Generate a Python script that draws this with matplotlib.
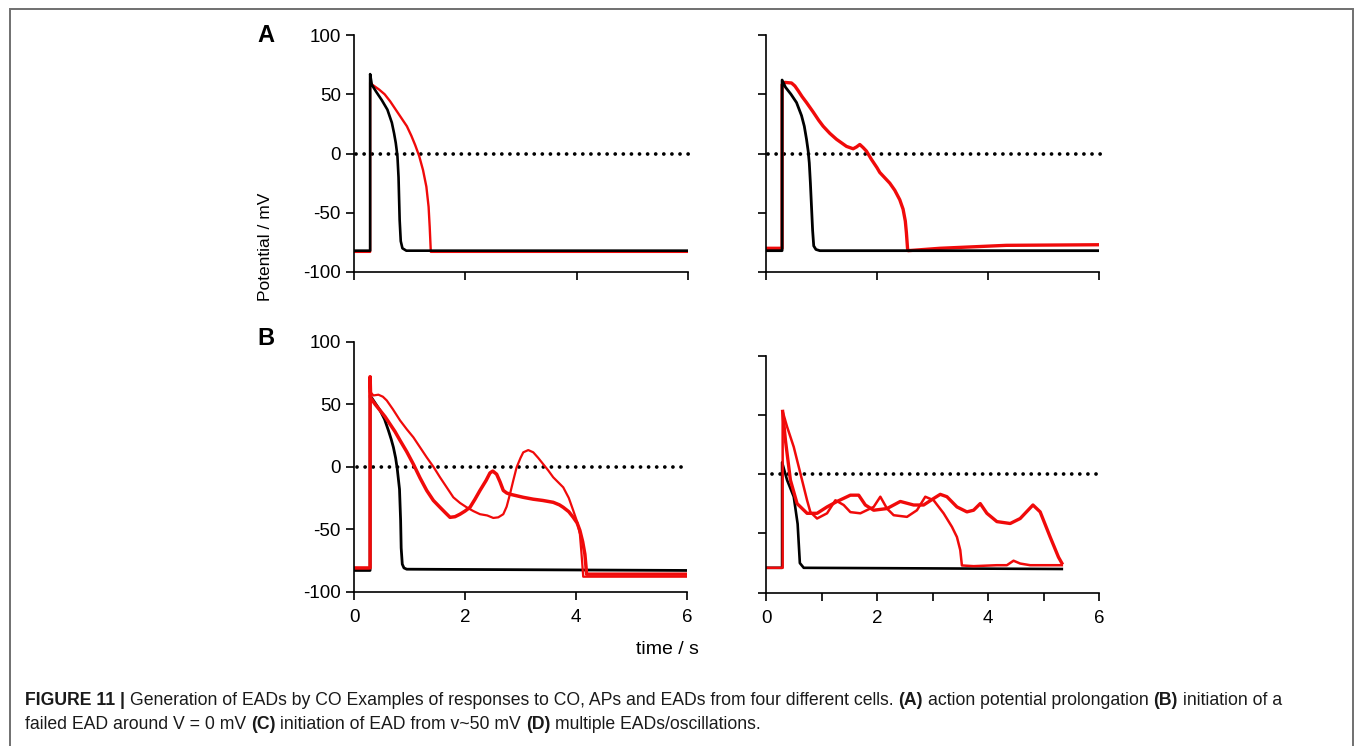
"""Figure 11: action potentials and EADs under CO, four cells."""

import matplotlib
matplotlib.use("Agg")
import matplotlib.pyplot as plt
from matplotlib.patches import Rectangle

plt.rcParams['font.family'] = ['Liberation Sans', 'DejaVu Sans']
plt.rcParams['axes.unicode_minus'] = False

W, H = 1355, 746

# ---- data (time in s, potential in mV) ----
# panel A, left cell
a1_black_t = [0, 0.29, 0.29, 0.32, 0.40, 0.50, 0.60, 0.68, 0.72, 0.75, 0.78,
              0.80, 0.82, 0.84, 0.87, 0.94, 6.0]
a1_black_v = [-82, -82, 67, 58, 52, 45, 37, 26, 17, 9, -2,
              -20, -56, -74, -80, -82, -82]
a1_red_t = [0, 0.29, 0.29, 0.33, 0.45, 0.55, 0.65, 0.75, 0.85, 0.95, 1.03, 1.10,
            1.17, 1.24, 1.30, 1.34, 1.36, 1.38, 6.0]
a1_red_v = [-83, -83, 60, 58, 54, 50, 44, 37, 30, 23, 15, 7,
            -2, -14, -28, -45, -62, -83, -83]

# panel A, right cell
a2_black_t = [0, 0.29, 0.29, 0.35, 0.45, 0.55, 0.64, 0.69, 0.73, 0.76, 0.78,
              0.80, 0.82, 0.84, 0.86, 0.90, 0.97, 6.0]
a2_black_v = [-82, -82, 62, 56, 50, 43, 32, 23, 12, 2, -8,
              -25, -45, -65, -78, -81, -82, -82]
a2_red_t = [0, 0.29, 0.29, 0.34, 0.46, 0.52, 0.58, 0.65, 0.73, 0.85, 0.95, 1.03,
            1.15, 1.27, 1.36, 1.45, 1.57, 1.63, 1.69, 1.75, 1.81, 1.90, 2.00,
            2.05, 2.15, 2.23, 2.32, 2.41, 2.47, 2.51, 2.53, 2.55, 2.56, 3.13,
            4.33, 6.0]
a2_red_v = [-80, -80, 58, 60, 59.5, 57, 53, 48, 43, 35, 28, 23,
            17, 12, 9, 6, 4, 5.5, 7.6, 5, 2, -5, -12,
            -16, -21, -25, -31, -39, -47, -57, -67, -80, -82, -80,
            -77.5, -77]

# panel B, left cell
b1_black_t = [0, 0.29, 0.29, 0.35, 0.47, 0.55, 0.62, 0.67, 0.71, 0.75, 0.78,
              0.80, 0.82, 0.84, 0.85, 0.87, 0.90, 0.95, 6.0]
b1_black_v = [-83, -83, 57, 53, 45, 38, 29, 22, 15.5, 7, -2,
              -10, -18, -43, -65, -78, -81, -82, -83]
b1_red1_t = [0, 0.29, 0.29, 0.30, 0.38, 0.47, 0.56, 0.65, 0.74, 0.83, 0.95, 1.07,
             1.19, 1.31, 1.43, 1.55, 1.65, 1.73, 1.82, 1.91, 2.00, 2.09, 2.18,
             2.27, 2.38, 2.45, 2.50, 2.57, 2.63, 2.69, 2.75, 2.81, 3.05, 3.23,
             3.40, 3.59, 3.70, 3.77, 3.87, 3.95, 4.02, 4.07, 4.12, 4.16, 4.18,
             4.19, 6.0]
b1_red1_v = [-81, -81, 72, 55, 50, 45, 40, 34, 28, 21, 12, 2,
             -9, -19, -27, -32.5, -37, -40.5, -40, -38, -35.5, -32.5, -26,
             -19, -11, -5, -3.5, -6, -12, -19, -21, -22, -24.5, -26,
             -27, -28.5, -30.5, -32.5, -36, -40.5, -45, -51, -60, -70, -80,
             -86, -86]
b1_red2_t = [0.29, 0.35, 0.44, 0.52, 0.59, 0.70, 0.83, 0.95, 1.07, 1.19, 1.31,
             1.43, 1.55, 1.67, 1.79, 1.91, 2.03, 2.15, 2.27, 2.40, 2.51, 2.60,
             2.69, 2.75, 2.81, 2.87, 2.93, 3.00, 3.05, 3.14, 3.23, 3.32, 3.41,
             3.50, 3.59, 3.68, 3.77, 3.87, 3.95, 4.02, 4.07, 4.10, 4.13, 6.0]
b1_red2_v = [60, 57, 57.6, 56, 53, 46, 37, 30, 23.5, 15.5, 7.5,
             0, -8.5, -16.5, -24.5, -29, -32.5, -35.5, -38, -39, -41, -40.5,
             -38, -32, -22, -11, -0.5, 7, 11.5, 13.3, 11.5, 7, 2,
             -3, -8.5, -12.5, -16.5, -25, -35, -44, -54, -70, -88, -88]

# panel B, right cell
b2_black_t = [0, 0.29, 0.29, 0.38, 0.50, 0.57, 0.61, 0.68, 5.33]
b2_black_v = [-79, -79, 10, -5, -19, -42, -75, -79, -80]
b2_red1_t = [0, 0.30, 0.30, 0.38, 0.50, 0.62, 0.74, 0.80, 0.92, 1.10, 1.25, 1.40,
             1.52, 1.70, 1.94, 2.06, 2.18, 2.30, 2.54, 2.72, 2.87, 3.02, 3.20,
             3.35, 3.44, 3.50, 3.53, 3.74, 4.16, 4.34, 4.46, 4.58, 4.76, 5.33]
b2_red1_v = [-79, -79, 53, 40, 23, 0.6, -22, -32, -37.4, -33, -22, -26,
             -32, -33, -27.6, -19, -29, -34.6, -36, -30.4, -19, -22, -33,
             -44.4, -53, -64, -77, -77.6, -76.8, -76.8, -73, -75.4, -76.8, -76.8]
b2_red2_t = [0.30, 0.35, 0.44, 0.56, 0.74, 0.92, 1.10, 1.28, 1.52, 1.67, 1.79,
             1.94, 2.18, 2.42, 2.66, 2.84, 3.02, 3.14, 3.26, 3.44, 3.62, 3.74,
             3.86, 3.98, 4.16, 4.40, 4.58, 4.81, 4.94, 5.12, 5.27, 5.33]
b2_red2_v = [53, 28.7, -5, -24.8, -33, -33, -27.6, -23, -17.7, -17.7, -26,
             -30.4, -29, -23, -26, -26, -20.5, -17, -19, -27.6, -31.8, -30.4,
             -24.8, -33, -40, -41.6, -37.4, -26, -31.8, -53, -70, -75]

y_ticks = [-100, -50, 0, 50, 100]
x_label_ticks = [0, 2, 4, 6]

RED = '#f00a0a'


def px_axes(fig, x0, y0, x1, y1):
    """Axes from pixel box (left, top, right, bottom)."""
    return fig.add_axes([x0 / W, 1 - y1 / H, (x1 - x0) / W, (y1 - y0) / H])


def style(ax, ylabels, xlabels, xticks=x_label_ticks):
    ax.set_xlim(0, 6)
    ax.set_ylim(-100, 100)
    for s in ('top', 'right'):
        ax.spines[s].set_visible(False)
    for s in ('left', 'bottom'):
        ax.spines[s].set_linewidth(1.2)
    ax.set_yticks(y_ticks)
    ax.set_xticks(xticks)
    ax.tick_params(direction='out', length=5.5, width=1.2, labelsize=13.5, pad=4)
    ax.tick_params(axis='x', pad=7)
    if not ylabels:
        ax.set_yticklabels([])
    if xlabels:
        ax.set_xticklabels([str(t) if t in x_label_ticks else '' for t in xticks])
    else:
        ax.set_xticklabels([])


def zero_line(ax, start=0.03):
    ax.plot([start, 6.03], [0, 0], color='black', lw=2.7, clip_on=False,
            dashes=[0.01, 2.15], dash_capstyle='round')


fig = plt.figure(figsize=(W / 100, H / 100), dpi=100)

ax = px_axes(fig, 354, 35, 688, 272)
zero_line(ax)
ax.plot(a1_red_t, a1_red_v, color=RED, lw=1.7)
ax.plot(a1_black_t, a1_black_v, color='black', lw=1.9)
style(ax, True, False)

ax = px_axes(fig, 766, 35, 1099, 272)
zero_line(ax, 0.04)
ax.plot(a2_red_t, a2_red_v, color=RED, lw=2.4)
ax.plot(a2_black_t, a2_black_v, color='black', lw=2.0)
style(ax, False, False)

ax = px_axes(fig, 354, 341.7, 687, 591.7)
zero_line(ax, 0.05)
ax.plot(b1_black_t, b1_black_v, color='black', lw=2.0)
ax.plot(b1_red2_t, b1_red2_v, color=RED, lw=1.6)
ax.plot(b1_red1_t, b1_red1_v, color=RED, lw=2.5)
style(ax, True, True)

ax = px_axes(fig, 766, 355.7, 1099, 592.7)
zero_line(ax, 0.1)
ax.plot(b2_black_t, b2_black_v, color='black', lw=1.9)
ax.plot(b2_red1_t, b2_red1_v, color=RED, lw=1.8)
ax.plot(b2_red2_t, b2_red2_v, color=RED, lw=2.4)
style(ax, False, True, xticks=[0, 1, 2, 3, 4, 5, 6])

# labels
fig.text(266 / W, 1 - 36 / H, 'A', fontsize=17, fontweight='bold', ha='center', va='center')
fig.text(266 / W, 1 - 338 / H, 'B', fontsize=17, fontweight='bold', ha='center', va='center')
fig.text(266 / W, 1 - 247 / H, 'Potential / mV', fontsize=12.5, rotation=90,
         ha='center', va='center')
fig.text(667 / W, 1 - 650 / H, 'time / s', fontsize=14, ha='center', va='center')

# border of the figure box
fig.add_artist(Rectangle((9.5 / W, -0.05), (1353 - 9.5) / W, 1.05 - 8.5 / H,
                         transform=fig.transFigure, fill=False,
                         edgecolor='#707070', lw=1.4))

# caption, mixed bold/normal pieces placed one after another
cap_lines = [
    [("FIGURE 11 |", 'bold'),
     ("Generation of EADs by CO Examples of responses to CO, APs and EADs from four different cells.", 'normal'),
     ("(A)", 'bold'), ("action potential prolongation", 'normal'),
     ("(B)", 'bold'), ("initiation of a", 'normal')],
    [("failed EAD around V = 0 mV", 'normal'), ("(C)", 'bold'),
     ("initiation of EAD from v~50 mV", 'normal'), ("(D)", 'bold'),
     ("multiple EADs/oscillations.", 'normal')],
]
cap_baselines = [705, 729]
CAP_FS = 12.7

renderer = fig.canvas.get_renderer()


def text_w(s, weight):
    t = fig.text(0, 0, s, fontsize=CAP_FS, fontweight=weight)
    w = t.get_window_extent(renderer).width
    t.remove()
    return w


space = text_w('x x', 'normal') - text_w('xx', 'normal')
for pieces, yb in zip(cap_lines, cap_baselines):
    x = 25.0
    for s, weight in pieces:
        fig.text(x / W, 1 - yb / H, s, fontsize=CAP_FS, fontweight=weight,
                 ha='left', va='baseline', color='#1a1a1a')
        x += text_w(s, weight) + space

fig.savefig('out.png', dpi=100)
